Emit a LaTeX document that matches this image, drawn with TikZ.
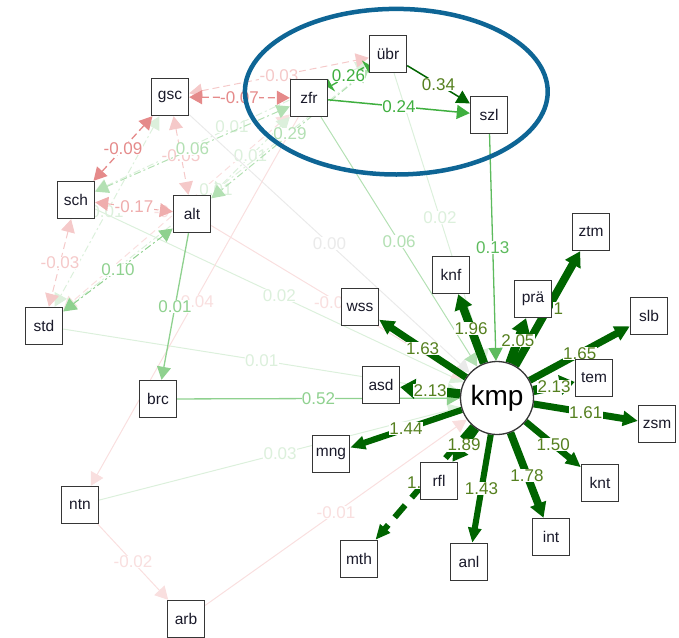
\documentclass[tikz,border=0pt]{standalone}
\usepackage{fontspec}
\setmainfont{Liberation Sans}
\usepackage{xcolor}
\definecolor{dGreen}{HTML}{006400}
\definecolor{dLabel}{HTML}{55801F}
\definecolor{mGreen}{HTML}{3FAF3F}
\definecolor{gMid}{HTML}{5DBB5D}
\definecolor{gLight}{HTML}{8FD18F}
\definecolor{gPale}{HTML}{B3E0B3}
\definecolor{gFaint}{HTML}{DCF0DC}
\definecolor{rStrong}{HTML}{E58A8A}
\definecolor{rMid}{HTML}{EFADAD}
\definecolor{rLight}{HTML}{F5C9C9}
\definecolor{rFaint}{HTML}{F9DFDF}
\definecolor{nGray}{HTML}{EAEAEA}
\definecolor{boxGray}{HTML}{363636}
\definecolor{nodeText}{HTML}{1A1A2A}
\definecolor{ringBlue}{HTML}{0E6595}
\usepackage{tikz}
\usetikzlibrary{arrows.meta, backgrounds}

\begin{document}
\begin{tikzpicture}[
  x=1pt, y=1pt,
  var/.style={rectangle, draw=boxGray, line width=1.4pt, fill=white, text=nodeText,
              minimum size=37pt, inner sep=0pt, font=\fontsize{15.5}{16}\selectfont},
  lat/.style={circle, draw=boxGray, line width=1.3pt, fill=white, text=black,
              minimum size=73pt, inner sep=0pt, font=\fontsize{28}{30}\selectfont},
  lbl/.style={fill=white, inner sep=0.4pt, font=\fontsize{17}{17}\selectfont},
  reg/.style={-{Triangle[length=13pt,width=14pt]}, line width=1pt},
  cov/.style={{Triangle[length=13pt,width=14pt]}-{Triangle[length=13pt,width=14pt]},
              line width=1pt, dash pattern=on 7pt off 4pt},
  covp/.style={cov, dash pattern=on 7pt off 3pt on 2pt off 3pt},
  load/.style={-{Triangle[length=15pt,width=0pt 2.1]}, draw=dGreen, text=dLabel}
]
\useasboundingbox (0,0) rectangle (679,-637);

% exogenous block
\node[var] (gsc)  at (170,-97)  {gsc};
\node[var] (zfr)  at (309,-98)  {zfr};
\node[var] (uebr) at (388,-54)  {übr};
\node[var] (szl)  at (489,-115) {szl};
\node[var] (sch)  at (76,-200)  {sch};
\node[var] (alt)  at (192,-214) {alt};
\node[var] (std)  at (44,-326)  {std};
\node[var] (brc)  at (158,-399) {brc};
\node[var] (ntn)  at (80,-505)  {ntn};
\node[var] (arb)  at (186,-619) {arb};

% latent and indicators
\node[lat] (kmp)  at (497,-398) {kmp};
\node[var] (wss)  at (360,-307) {wss};
\node[var] (knf)  at (451,-275) {knf};
\node[var] (prae) at (533,-299) {prä};
\node[var] (ztm)  at (591,-232) {ztm};
\node[var] (slb)  at (649,-316) {slb};
\node[var] (tem)  at (594,-378) {tem};
\node[var] (zsm)  at (657,-424) {zsm};
\node[var] (knt)  at (600,-483) {knt};
\node[var] (int)  at (551,-537) {int};
\node[var] (anl)  at (469,-562) {anl};
\node[var] (rfl)  at (439,-481) {rfl};
\node[var] (mth)  at (359,-559) {mth};
\node[var] (mng)  at (331,-454) {mng};
\node[var] (asd)  at (381,-385) {asd};

\begin{scope}[on background layer]
% weak paths first
\draw[cov, rFaint] (zfr) -- node[lbl, xshift=-15pt]{-0} (std);
\draw[covp, gFaint] (zfr) -- node[lbl]{0.01} (alt);
\draw[covp, gFaint] (uebr) -- node[lbl]{0.01} (sch);
\draw[covp, gFaint] (uebr) -- node[lbl]{0.01} (std);
\draw[covp, gFaint] (gsc) -- node[lbl]{0.01} (std);
\draw[reg, nGray] (gsc) -- node[lbl]{0.00} (kmp);
\draw[reg, gFaint] (uebr) -- node[lbl]{0.02} (kmp);
\draw[reg, gFaint] (sch) -- node[lbl]{0.02} (kmp);
\draw[reg, gFaint] (std) -- node[lbl]{0.01} (kmp);
\draw[reg, gFaint] (ntn) -- node[lbl]{0.03} (kmp);
\draw[reg, rFaint] (arb) -- node[lbl]{-0.01} (kmp);
\draw[reg, rFaint] (alt) -- node[lbl, xshift=-9.5pt]{-0.0} (kmp);
\draw[reg, rFaint] (zfr) -- node[lbl]{-0.04} (ntn);
\draw[reg, rFaint] (ntn) -- node[lbl]{-0.02} (arb);
\draw[cov, rLight] (sch) -- node[lbl]{-0.03} (std);
\draw[cov, rLight] (gsc) -- node[lbl]{-0.05} (alt);
\draw[cov, rLight] (gsc) -- node[lbl]{-0.03} (uebr);
\draw[cov, rMid] (sch) -- node[lbl]{-0.17} (alt);
\draw[cov, rStrong, line width=1.3pt] (gsc) -- node[lbl]{-0.09} (sch);
\draw[cov, rStrong, line width=1.3pt] (gsc) -- node[lbl]{-0.07} (zfr);
\draw[covp, gPale] (zfr) -- node[lbl]{0.06} (sch);
\draw[covp, gPale] (uebr) -- node[lbl]{0.29} (alt);
\draw[covp, gLight] (alt) -- node[lbl]{0.10} (std);
\draw[reg, gPale] (zfr) -- node[lbl]{0.06} (kmp);
\draw[reg, gLight, line width=1.3pt] (brc) -- node[lbl]{0.52} (kmp);
\draw[reg, gLight, line width=1.3pt] (alt) -- node[lbl]{0.01} (brc);
\draw[reg, gMid, line width=1.3pt] (szl) -- node[lbl]{0.13} (kmp);
\draw[covp, mGreen, line width=1.4pt,
      {Triangle[length=4pt,width=14pt]}-{Triangle[length=4pt,width=14pt]}]
  (zfr) -- node[lbl]{0.26} (uebr);
\draw[reg, mGreen, line width=1.5pt] (zfr) -- node[lbl]{0.24} (szl);
\draw[reg, dGreen, line width=1.5pt] (uebr) -- node[lbl, text=dLabel]{0.34} (szl);

% loadings
\draw[load, line width=7pt]   (kmp) -- node[lbl]{1.63} (wss);
\draw[load, line width=8.4pt] (kmp) -- node[lbl]{1.96} (knf);
\draw[load, line width=8pt]   (kmp) -- node[lbl, xshift=10.5pt]{1} (ztm);
\draw[load, line width=8.8pt] (kmp) -- node[lbl]{2.05} (prae);
\draw[load, line width=7.1pt] (kmp) -- node[lbl]{1.65} (slb);
\draw[load, line width=9.2pt] (kmp) -- node[lbl]{2.13} (tem);
\draw[load, line width=6.9pt] (kmp) -- node[lbl]{1.61} (zsm);
\draw[load, line width=6.5pt] (kmp) -- node[lbl]{1.50} (knt);
\draw[load, line width=7.7pt] (kmp) -- node[lbl]{1.78} (int);
\draw[load, line width=6.1pt] (kmp) -- node[lbl]{1.43} (anl);
\draw[load, line width=6pt, dash pattern=on 16pt off 10pt]
  (kmp) -- node[lbl, xshift=-10pt]{1.} (mth);
\draw[load, line width=8.1pt] (kmp) -- node[lbl]{1.89} (rfl);
\draw[load, line width=6.2pt] (kmp) -- node[lbl]{1.44} (mng);
\draw[load, line width=9.2pt] (kmp) -- node[lbl]{2.13} (asd);
\end{scope}

\draw[ringBlue, line width=4.5pt] (396.3,-91.7) ellipse (151.4 and 82.8);
\end{tikzpicture}
\end{document}
